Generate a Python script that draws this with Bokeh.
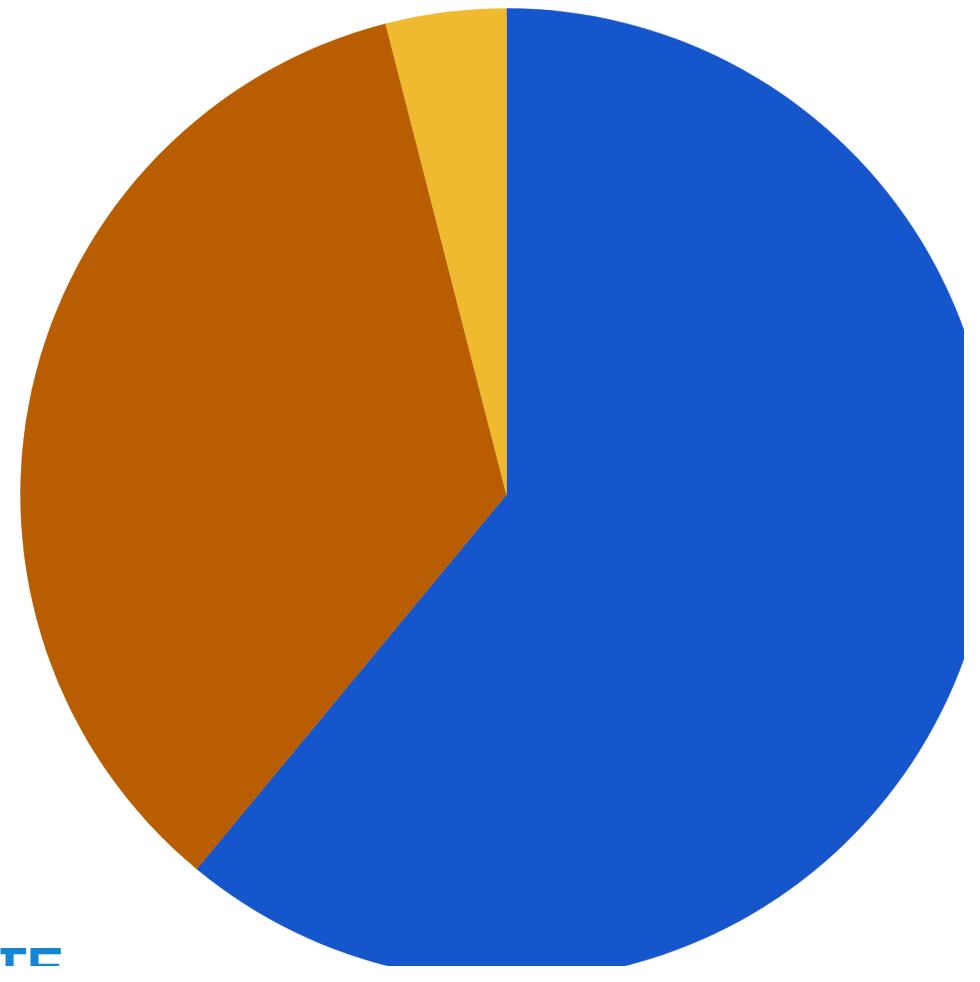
import math
from bokeh.plotting import figure
from bokeh.models import Range1d, ColumnDataSource
from bokeh.core.properties import value
from bokeh.embed import file_html
from bokeh.resources import INLINE

# Data
categories = ["A", "B", "C"]
shares = [61, 35, 4]
colors = ["#1556CC", "#B95D02", "#F0BA30"]
label_text = "TE"

W, H = 964, 966
p = figure(width=W, height=H, output_backend="svg", toolbar_location=None,
           x_range=Range1d(0, W), y_range=Range1d(0, H), min_border=0,
           background_fill_color="white", border_fill_color="white")
p.axis.visible = False
p.grid.visible = False
p.outline_line_color = None

total = float(sum(shares))
starts, ends = [], []
cum = 0.0
for s in shares:
    starts.append(math.pi / 2 - 2 * math.pi * cum / total)
    cum += s
    ends.append(math.pi / 2 - 2 * math.pi * cum / total)

src = ColumnDataSource(dict(cat=categories, val=shares, color=colors,
                            start=starts, end=ends))
cx, cy, r = 506, H - 494, 486
p.wedge(x=cx, y=cy, radius=r, start_angle="start", end_angle="end",
        direction="clock", fill_color="color", line_color="color",
        line_width=0.5, source=src)

p.text(x=[-8], y=[H - 934], text=[label_text], text_font=value("Liberation Sans"),
       text_font_style="bold", text_font_size="56px", text_color="#1585D3",
       text_baseline="top", text_align="left")

open("out.html", "w").write(file_html(p, INLINE))
